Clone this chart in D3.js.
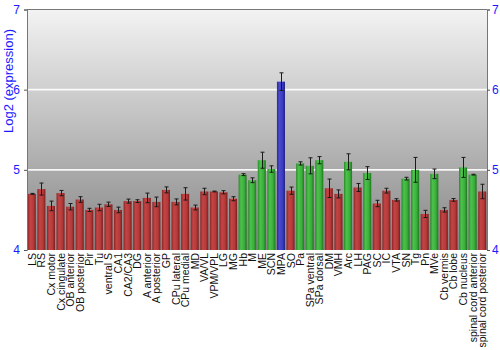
<!DOCTYPE html>
<html>
<head>
<meta charset="utf-8">
<script src="https://cdn.jsdelivr.net/npm/d3@7"></script>
<style>
  html, body { margin: 0; padding: 0; background: #fff; }
  svg { display: block; font-family: "Liberation Sans", Arial, sans-serif; }
</style>
</head>
<body>
<svg id="chart" width="500" height="350"></svg>
<script>
const categories = ["LS","RS","Cx motor","Cx cingulate","OB anterior","OB posterior","Pir","Tu","ventral S","CA1","CA2/CA3","DG","A anterior","A posterior","GP","CPu lateral","CPu medial","MD","VA/VL","VPM/VPL","LG","MG","Hb","M","ME","SCN","MPA","SO","Pa","SPa ventral","SPa dorsal","DM","VMH","Arc","LH","PAG","SC","IC","VTA","SN","Tg","Pn","MVe","Cb vermis","Cb lobe","Cb nucleus","spinal cord anterior","spinal cord posterior"];
const values = [4.70,4.76,4.55,4.71,4.54,4.63,4.50,4.53,4.57,4.50,4.61,4.61,4.65,4.60,4.75,4.60,4.70,4.53,4.73,4.73,4.72,4.64,4.94,4.87,5.12,5.01,6.10,4.74,5.08,5.05,5.12,4.77,4.70,5.10,4.78,4.96,4.58,4.74,4.625,4.89,5.00,4.45,4.95,4.50,4.625,5.03,4.94,4.73];
const errors = [0.006,0.075,0.06,0.033,0.04,0.035,0.02,0.04,0.027,0.035,0.025,0.017,0.06,0.06,0.037,0.037,0.077,0.03,0.04,0.005,0.02,0.025,0.012,0.03,0.1,0.04,0.11,0.045,0.02,0.1,0.045,0.115,0.05,0.1,0.05,0.08,0.04,0.03,0.015,0.017,0.155,0.045,0.06,0.027,0.017,0.125,0.005,0.09];
const groups = ["r","r","r","r","r","r","r","r","r","r","r","r","r","r","r","r","r","r","r","r","r","r","g","g","g","g","b","r","g","g","g","r","r","g","r","g","r","r","r","g","g","r","g","r","r","g","g","r"];
const yTicks = [4,5,6,7];
const yTitle = "Log2 (expression)";

const svg = d3.select("#chart");
const mLeft = 27, mRight = 487, mTop = 9.5, mBottom = 250;

const x = d3.scaleBand().domain(categories).range([mLeft, mRight]).paddingInner(0.16).paddingOuter(0.08);
const y = d3.scaleLinear().domain([4, 7]).range([mBottom, mTop]);

const defs = svg.append("defs");
const bg = defs.append("linearGradient").attr("id","bg").attr("x1",0).attr("y1",0).attr("x2",0).attr("y2",1);
bg.append("stop").attr("offset","0%").attr("stop-color","#f3f3f3");
bg.append("stop").attr("offset","100%").attr("stop-color","#868686");

const palette = {
  r: ["#8c2626","#c44444","#b53a3a","#7a1e1e"],
  g: ["#2a8a2a","#4cc24c","#3aae3a","#1f761f"],
  b: ["#2a2a9a","#4a4ad0","#3b3bc0","#20207e"]
};
Object.entries(palette).forEach(([k, c]) => {
  const g = defs.append("linearGradient").attr("id","bar-"+k).attr("x1",0).attr("y1",0).attr("x2",1).attr("y2",0);
  g.append("stop").attr("offset","0%").attr("stop-color",c[0]);
  g.append("stop").attr("offset","30%").attr("stop-color",c[1]);
  g.append("stop").attr("offset","70%").attr("stop-color",c[2]);
  g.append("stop").attr("offset","100%").attr("stop-color",c[3]);
});

// background
svg.append("rect").attr("x", mLeft).attr("y", mTop).attr("width", mRight-mLeft).attr("height", mBottom-mTop).attr("fill","url(#bg)");

// grid lines
svg.append("g").selectAll("line").data([5,6]).join("line")
  .attr("x1", mLeft).attr("x2", mRight)
  .attr("y1", d => y(d)).attr("y2", d => y(d))
  .attr("stroke", "#ffffff").attr("stroke-opacity", 0.9).attr("stroke-width", 1.6);

// bars
const data = categories.map((c,i) => ({c, v: values[i], e: errors[i], g: groups[i]}));
svg.append("g").selectAll("rect").data(data).join("rect")
  .attr("x", d => x(d.c)).attr("width", x.bandwidth())
  .attr("y", d => y(d.v)).attr("height", d => y(4) - y(d.v))
  .attr("fill", d => "url(#bar-"+d.g+")");

// error bars
const eb = svg.append("g").attr("stroke","#1a1a1a").attr("stroke-width",1);
data.forEach(d => {
  const cx = Math.round(x(d.c) + x.bandwidth()/2) + 0.5;
  eb.append("line").attr("x1",cx).attr("x2",cx).attr("y1",y(d.v+d.e)).attr("y2",y(d.v-d.e));
  eb.append("line").attr("x1",cx-2).attr("x2",cx+2).attr("y1",y(d.v+d.e)).attr("y2",y(d.v+d.e));
  eb.append("line").attr("x1",cx-2).attr("x2",cx+2).attr("y1",y(d.v-d.e)).attr("y2",y(d.v-d.e));
});

// frame: top line and axes
svg.append("line").attr("x1",mLeft).attr("x2",mRight).attr("y1",mTop).attr("y2",mTop).attr("stroke","#777").attr("stroke-width",1);

const yAxisL = d3.axisLeft(y).tickValues(yTicks).tickFormat(d3.format("d")).tickSize(3).tickPadding(4);
const gl = svg.append("g").attr("transform",`translate(${mLeft},0)`).call(yAxisL);
const yAxisR = d3.axisRight(y).tickValues(yTicks).tickFormat(d3.format("d")).tickSize(3).tickPadding(2);
const gr = svg.append("g").attr("transform",`translate(${mRight},0)`).call(yAxisR);
[gl, gr].forEach(g => {
  g.select(".domain").attr("stroke","#777");
  g.selectAll(".tick line").attr("stroke","#555");
  g.selectAll(".tick text").attr("fill","#1a1aff").attr("font-size","12px").attr("font-family",'"Liberation Sans", Arial, sans-serif');
});

// y title
svg.append("text").attr("transform",`translate(13,${(25+137)/2}) rotate(-90)`)
  .attr("text-anchor","middle").attr("fill","#1a1aff").attr("font-size","13px").text(yTitle);

// x labels
svg.append("g").selectAll("text").data(categories).join("text")
  .attr("transform", d => `translate(${x(d) + x.bandwidth()/2 + 4},253) rotate(-90)`)
  .attr("text-anchor","end").attr("font-size","10.5px").attr("fill","#111").text(d => d);
</script>
</body>
</html>
